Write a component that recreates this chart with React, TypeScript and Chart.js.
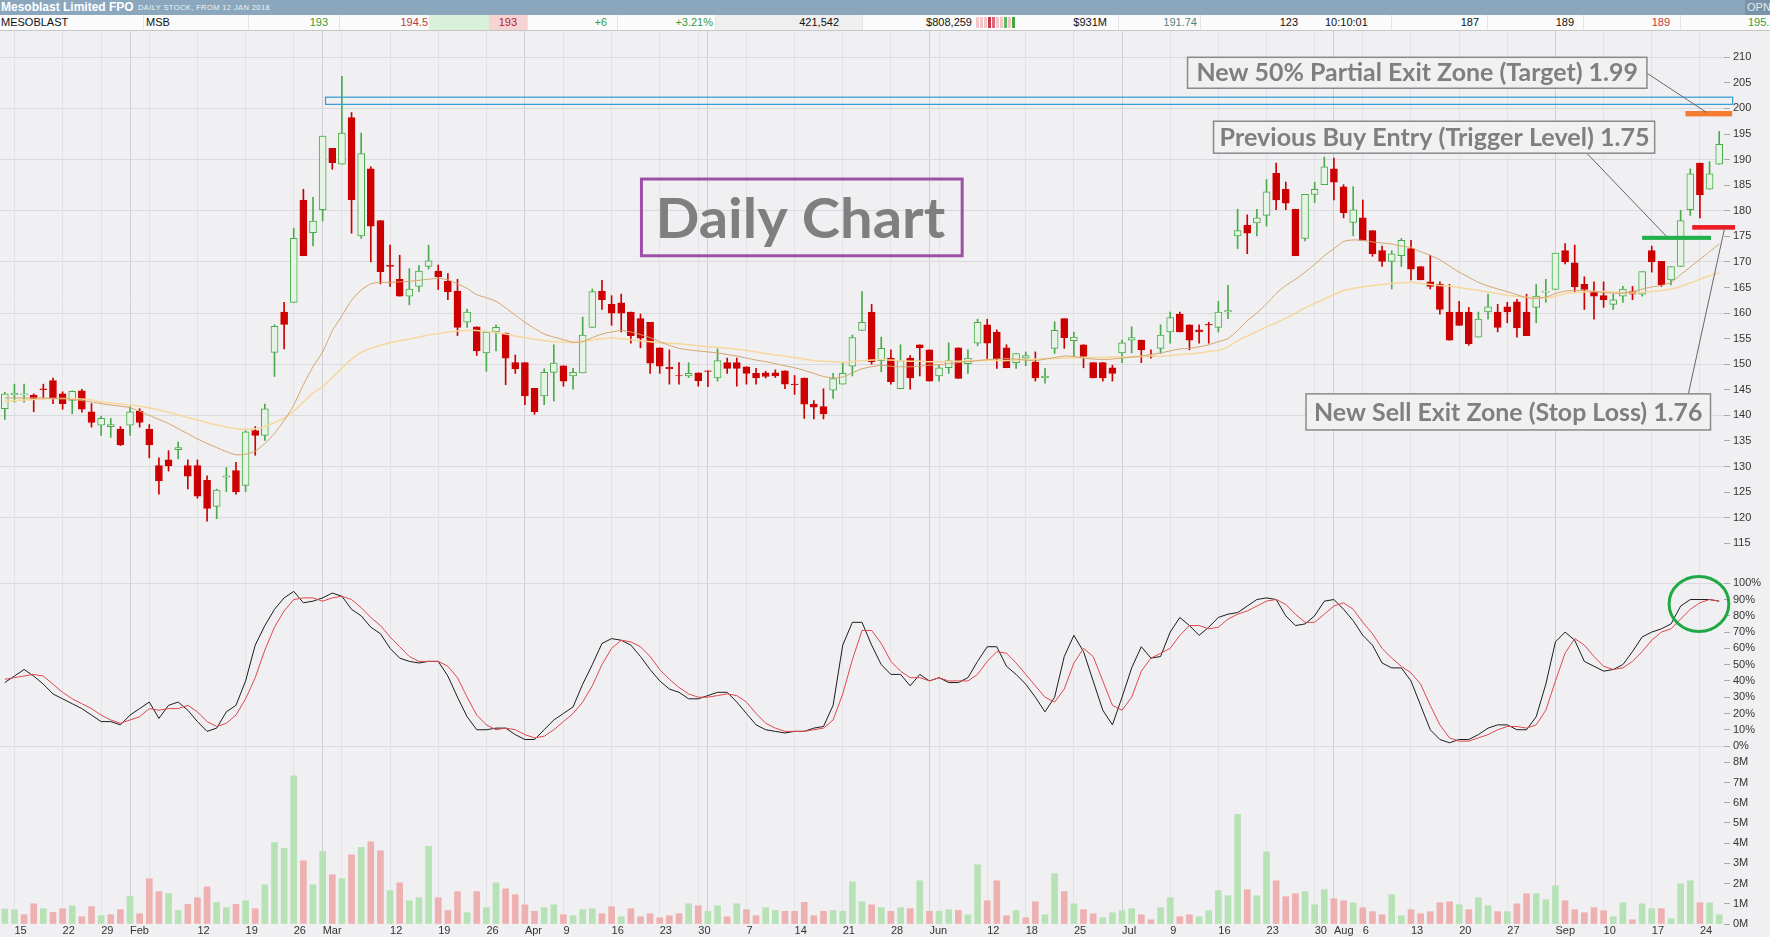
import React, { useEffect, useRef } from 'react';
import { Chart, registerables } from 'chart.js';

Chart.register(...registerables);

// ---------------- data ----------------
const FIRST_DAY = '2018-01-12';
const LAST_DAY = '2018-09-26';
const HOLIDAYS = ['2018-01-26', '2018-03-30', '2018-04-02', '2018-04-25', '2018-06-11'];
const MONTH_NAMES = ['Jan', 'Feb', 'Mar', 'Apr', 'May', 'Jun', 'Jul', 'Aug', 'Sep', 'Oct', 'Nov', 'Dec'];

const OPEN = [
  141.3, 144.0, 144.0, 143.9, 145.2, 146.8, 144.2, 142.9, 144.8, 140.7,
  138.1, 137.8, 137.3, 138.1, 140.8, 137.3, 130.2, 131.3, 133.3, 130.2,
  130.2, 127.3, 122.2, 127.9, 129.2, 126.3, 137.0, 136.1, 152.3, 160.2,
  162.1, 182.1, 175.7, 180.2, 192.2, 189.1, 198.2, 175.1, 188.2, 178.1,
  169.4, 166.6, 163.3, 165.2, 169.1, 168.2, 166.2, 164.3, 158.2, 157.3,
  152.2, 156.3, 156.1, 150.3, 150.3, 145.3, 143.8, 148.4, 149.7, 147.7,
  148.3, 157.2, 164.3, 161.7, 162.0, 160.2, 158.9, 158.2, 153.2, 149.4,
  147.8, 147.7, 148.3, 148.7, 147.3, 150.3, 150.3, 149.5, 148.2, 148.3,
  148.3, 148.7, 146.1, 147.3, 142.2, 141.7, 144.9, 146.1, 149.6, 156.6,
  160.2, 150.7, 151.2, 145.2, 151.2, 153.8, 152.8, 147.7, 149.3, 153.2,
  150.1, 154.1, 157.7, 156.3, 153.2, 150.3, 151.2, 150.4, 147.3, 153.1,
  158.9, 154.6, 153.8, 150.3, 150.3, 149.3, 152.2, 154.7, 154.7, 151.6,
  153.1, 156.3, 159.8, 157.7, 156.7, 157.8, 157.2, 160.2, 175.1, 177.2,
  177.6, 179.1, 187.3, 184.2, 180.3, 174.6, 183.2, 185.1, 188.2, 184.7,
  177.7, 178.6, 176.1, 172.2, 170.1, 171.2, 172.6, 169.1, 166.1, 165.6,
  160.2, 160.2, 160.2, 155.3, 160.2, 160.2, 161.2, 162.2, 160.2, 161.1,
  164.1, 164.6, 172.2, 169.8, 165.6, 164.1, 163.4, 161.7, 163.3, 164.2,
  163.7, 172.2, 170.1, 166.5, 169.1, 180.2, 189.3, 184.2, 189.1,
];
const HIGH = [
  144.5, 146.1, 146.1, 144.2, 146.1, 147.3, 144.6, 144.8, 145.1, 142.3,
  139.8, 139.4, 137.8, 141.7, 141.3, 138.2, 131.7, 133.1, 134.8, 131.3,
  131.3, 128.2, 125.6, 129.8, 130.8, 137.0, 137.8, 142.2, 157.7, 162.1,
  176.6, 184.2, 182.6, 194.6, 192.2, 206.3, 199.2, 195.2, 188.6, 178.1,
  173.3, 171.3, 168.7, 169.3, 173.3, 169.4, 167.7, 166.6, 160.8, 157.3,
  156.4, 157.7, 156.1, 151.8, 150.3, 145.3, 149.1, 153.8, 149.7, 149.2,
  159.2, 164.7, 166.4, 163.4, 163.7, 160.2, 159.8, 158.2, 153.2, 152.8,
  150.3, 150.3, 148.3, 148.7, 153.0, 151.2, 151.2, 149.5, 149.2, 148.6,
  148.9, 148.7, 147.8, 147.3, 142.9, 145.2, 148.2, 150.2, 155.7, 164.2,
  161.7, 155.3, 152.8, 153.8, 151.7, 153.8, 152.8, 149.8, 154.2, 153.2,
  152.8, 158.8, 158.8, 156.7, 153.8, 152.1, 152.4, 152.4, 149.2, 158.3,
  158.9, 156.3, 153.8, 150.3, 150.3, 149.8, 154.7, 157.3, 154.7, 152.8,
  157.7, 160.2, 160.2, 157.7, 157.7, 158.2, 162.3, 165.4, 180.3, 179.2,
  180.3, 186.1, 189.3, 185.6, 180.3, 183.2, 185.6, 190.5, 190.3, 185.1,
  184.7, 182.1, 176.1, 173.1, 172.2, 174.6, 174.2, 169.1, 171.3, 166.1,
  165.6, 162.3, 161.1, 160.2, 163.7, 161.7, 162.1, 162.7, 163.7, 165.6,
  166.6, 171.7, 173.6, 173.3, 167.1, 166.1, 166.1, 163.7, 165.2, 165.2,
  168.1, 173.1, 170.1, 169.1, 180.1, 188.2, 189.3, 189.6, 195.5,
];
const LOW = [
  139.2, 142.6, 142.6, 140.7, 143.2, 142.3, 141.2, 140.3, 140.6, 137.7,
  136.1, 135.7, 134.1, 136.1, 137.7, 131.7, 124.6, 129.1, 131.5, 125.6,
  123.8, 119.3, 119.8, 125.1, 124.6, 125.1, 132.2, 135.1, 147.6, 153.0,
  162.1, 171.2, 173.1, 178.0, 188.1, 189.1, 175.6, 174.6, 170.0, 165.7,
  165.2, 163.3, 161.6, 164.2, 168.6, 164.6, 162.6, 155.6, 157.2, 151.7,
  148.6, 152.6, 146.0, 148.2, 142.1, 140.2, 142.1, 142.8, 145.7, 145.1,
  148.3, 157.2, 160.7, 157.6, 156.3, 154.1, 153.2, 148.2, 148.2, 146.1,
  146.1, 147.4, 145.7, 145.6, 146.7, 148.2, 145.7, 146.1, 146.1, 147.3,
  147.4, 145.2, 144.1, 139.4, 139.3, 139.3, 143.3, 146.1, 147.7, 156.6,
  150.0, 148.5, 146.1, 145.2, 145.1, 147.7, 146.7, 146.7, 148.2, 147.2,
  148.2, 153.6, 151.1, 149.2, 149.3, 149.2, 149.7, 146.7, 146.3, 152.1,
  153.1, 151.5, 149.3, 147.3, 146.7, 146.7, 150.3, 152.2, 150.3, 151.2,
  152.1, 154.1, 156.3, 152.8, 154.1, 154.1, 156.3, 158.9, 172.6, 171.6,
  175.1, 177.0, 180.2, 180.2, 171.2, 174.1, 181.6, 185.1, 182.1, 178.6,
  175.1, 174.2, 171.1, 169.1, 164.7, 169.1, 166.5, 166.5, 164.7, 159.8,
  154.7, 157.6, 153.7, 155.3, 158.8, 156.3, 158.1, 155.3, 155.6, 158.1,
  162.1, 164.6, 169.6, 164.1, 160.7, 158.8, 161.1, 160.7, 162.1, 162.6,
  163.3, 168.0, 165.2, 165.5, 169.1, 179.1, 178.6, 184.2, 189.1,
];
const CLOSE = [
  144.2, 144.3, 144.2, 143.3, 145.0, 143.2, 142.3, 144.7, 141.2, 138.6,
  139.4, 138.2, 134.2, 140.7, 138.6, 134.2, 127.2, 130.1, 133.7, 128.1,
  124.2, 121.8, 125.4, 128.2, 125.1, 136.8, 136.1, 141.3, 157.4, 157.8,
  174.6, 171.2, 178.0, 194.6, 189.4, 195.2, 182.1, 191.2, 177.0, 168.1,
  169.1, 163.3, 164.7, 168.2, 170.2, 167.1, 164.2, 157.2, 160.2, 152.6,
  156.3, 157.2, 151.2, 149.1, 143.8, 140.7, 148.4, 150.2, 146.7, 148.4,
  155.7, 164.2, 162.6, 160.0, 160.0, 155.6, 155.1, 150.2, 149.6, 149.1,
  147.7, 148.2, 146.8, 148.6, 150.7, 149.2, 149.2, 148.2, 147.3, 147.6,
  147.7, 146.1, 146.0, 142.2, 141.6, 140.3, 147.2, 148.2, 155.2, 158.2,
  150.5, 153.1, 146.6, 150.7, 147.3, 153.2, 146.7, 149.3, 150.7, 147.2,
  151.2, 158.2, 154.1, 151.1, 149.3, 152.1, 151.7, 147.3, 147.7, 156.6,
  155.2, 155.3, 151.5, 147.3, 147.3, 148.2, 154.2, 155.2, 152.8, 151.4,
  155.7, 159.1, 156.3, 154.7, 156.3, 157.7, 160.2, 160.5, 176.1, 175.6,
  178.6, 183.7, 182.1, 181.5, 171.2, 183.2, 184.2, 188.6, 185.6, 179.6,
  180.2, 174.2, 171.6, 170.1, 171.6, 174.2, 168.6, 166.5, 165.2, 160.7,
  154.7, 157.6, 154.0, 158.8, 161.2, 157.2, 160.2, 157.1, 155.6, 163.3,
  164.3, 171.7, 170.0, 165.1, 164.6, 163.3, 162.6, 162.6, 164.7, 163.7,
  168.1, 170.0, 165.5, 169.1, 178.1, 187.2, 183.1, 187.2, 193.0,
];
const VOLUME_M = [
  0.74, 0.71, 0.46, 1.0, 0.76, 0.58, 0.76, 0.9, 0.36, 0.86,
  0.41, 0.46, 0.71, 1.37, 0.51, 2.24, 1.6, 1.51, 0.67, 0.97,
  1.3, 1.84, 1.07, 0.81, 0.97, 1.15, 0.76, 1.94, 4.03, 3.74,
  7.33, 3.13, 1.94, 3.59, 2.44, 2.24, 3.42, 3.79, 4.07, 3.62,
  1.65, 2.04, 1.15, 1.3, 3.84, 1.3, 0.67, 1.6, 0.56, 1.6,
  0.81, 2.04, 1.74, 1.45, 0.95, 0.63, 0.81, 0.95, 0.46, 0.41,
  0.71, 0.76, 0.51, 0.86, 0.36, 0.76, 0.36, 0.51, 0.31, 0.41,
  0.51, 1.0, 0.9, 0.63, 0.9, 0.36, 1.0, 0.71, 0.41, 0.81,
  0.67, 0.63, 0.63, 1.07, 0.41, 0.63, 0.67, 0.63, 2.09, 1.1,
  0.95, 0.81, 0.63, 0.81, 0.76, 2.14, 0.63, 0.63, 0.71, 0.67,
  0.46, 2.93, 1.15, 2.14, 0.41, 0.66, 0.31, 1.1, 0.46, 2.49,
  1.6, 1.0, 0.71, 0.51, 0.31, 0.56, 0.66, 0.76, 0.46, 0.21,
  0.81, 1.3, 0.36, 0.46, 0.36, 0.66, 1.65, 1.4, 5.43, 1.7,
  1.4, 3.57, 2.14, 1.35, 1.5, 1.6, 0.95, 1.7, 1.25, 1.15,
  1.05, 0.81, 0.61, 0.46, 1.45, 0.41, 0.71, 0.51, 0.61, 1.05,
  1.1, 0.95, 0.71, 1.3, 0.9, 0.61, 0.61, 1.0, 1.5, 1.5,
  1.2, 1.89, 1.15, 0.71, 0.56, 0.81, 0.66, 0.36, 1.05, 0.21,
  1.0, 0.76, 0.76, 0.26, 1.99, 2.14, 1.05, 1.05, 0.46,
];
const STOCH_K = [
  39, 43, 47, 43, 38, 32, 29, 26, 23, 19,
  15, 15, 13, 19, 23, 27, 17, 25, 27, 22,
  15, 9, 11, 21, 25, 40, 62, 74, 84, 91,
  95, 88, 89, 91, 94, 92, 84, 80, 73, 69,
  60, 54, 52, 51, 52, 52, 43, 30, 18, 10,
  10, 11, 11, 7, 4, 4, 10, 16, 20, 24,
  38, 50, 63, 66, 65, 62, 55, 47, 40, 35,
  33, 29, 29, 31, 33, 33, 27, 20, 13, 10,
  9, 8, 9, 9, 11, 12, 25, 62, 76, 76,
  62, 50, 44, 44, 37, 44, 40, 42, 39, 39,
  42, 52, 61, 61, 49, 44, 38, 30, 21, 30,
  55, 68, 58, 40, 22, 13, 30, 48, 61, 54,
  55, 70, 79, 74, 68, 73, 79, 81, 82, 86,
  90, 91, 90, 80, 74, 75, 80, 89, 90, 84,
  77, 68, 62, 51, 48, 48, 40, 25, 10, 4,
  2, 4, 4, 7, 11, 13, 13, 10, 10, 18,
  38, 64, 70, 65, 52, 49, 46, 47, 50, 58,
  67, 70, 72, 75, 86, 90, 90, 90, 89,
];
const STOCH_D = [
  41, 42, 43, 44, 43, 38, 33, 29, 26, 23,
  19, 16, 14, 16, 18, 23, 22, 23, 23, 25,
  21, 15, 12, 14, 19, 29, 42, 59, 73, 83,
  90, 91, 91, 89, 91, 92, 90, 85, 79, 74,
  67, 61, 55, 52, 52, 52, 49, 42, 30, 19,
  13, 10, 11, 10, 7, 5, 6, 10, 15, 20,
  27, 37, 50, 60, 65, 64, 61, 55, 47, 41,
  36, 32, 30, 30, 31, 32, 31, 27, 20, 14,
  11, 9, 9, 9, 10, 11, 16, 32, 53, 71,
  71, 63, 52, 46, 42, 42, 40, 42, 40, 40,
  40, 44, 52, 58, 57, 51, 44, 37, 30, 27,
  35, 51, 60, 55, 40, 25, 22, 30, 46, 54,
  57, 60, 68, 74, 74, 72, 73, 78, 81, 83,
  86, 89, 90, 87, 81, 76, 76, 81, 86, 88,
  84, 76, 69, 60, 54, 49, 45, 38, 25, 13,
  5, 3, 3, 5, 7, 10, 12, 12, 11, 13,
  22, 40, 57, 66, 62, 55, 49, 47, 48, 52,
  58, 65, 70, 72, 78, 84, 88, 90, 89,
];
const MA_FAST = [
  143.4, 143.4, 143.4, 143.4, 143.4, 143.3, 143.3, 143.1, 142.9, 142.6,
  142.3, 142.0, 141.8, 141.5, 140.8, 140.0, 139.2, 138.4, 137.4, 136.4,
  135.4, 134.5, 133.7, 132.9, 132.3, 132.4, 133.0, 134.5, 136.5, 139.0,
  142.0, 146.0, 149.5, 152.4, 156.5, 159.5, 162.5, 164.5, 165.7, 166.0,
  166.0, 166.1, 166.2, 166.4, 166.6, 166.8, 166.5, 165.7, 164.8, 163.6,
  163.0, 162.3, 161.0, 159.6, 158.2, 157.0, 155.9, 155.3, 154.8, 154.3,
  154.4, 155.2, 155.9, 156.3, 156.6, 156.3, 155.8, 155.2, 154.4, 153.7,
  153.1, 152.8, 152.6, 152.4, 152.2, 151.9, 151.6, 151.2, 150.8, 150.5,
  150.1, 149.7, 149.3, 148.8, 148.2, 147.6, 147.3, 147.5, 148.3, 149.1,
  149.5, 149.8, 149.6, 149.5, 149.5, 149.6, 149.8, 149.9, 150.1, 150.3,
  150.5, 150.7, 150.9, 151.0, 151.1, 151.0, 150.8, 150.7, 151.0, 151.3,
  151.6, 151.5, 151.2, 151.0, 150.9, 151.0, 151.2, 151.4, 151.6, 151.9,
  152.2, 152.6, 153.0, 153.1, 153.4, 153.8, 154.4, 155.0, 156.6, 158.5,
  160.0, 161.8, 163.8, 165.4, 166.6, 168.0, 169.5, 171.2, 172.6, 174.0,
  174.3, 174.2, 173.9, 173.7, 173.5, 173.1, 172.8, 172.0, 171.3, 170.4,
  169.2, 168.0, 167.0, 166.0, 165.3, 164.7, 164.2, 163.6, 163.0, 162.9,
  163.1, 163.8, 164.3, 164.4, 164.4, 164.2, 164.0, 163.9, 163.9, 164.2,
  164.7, 165.1, 165.4, 166.0, 167.5, 169.0, 170.5, 172.0, 173.5,
];
const MA_SLOW = [
  142.8, 142.9, 143.0, 143.1, 143.2, 143.3, 143.3, 143.3, 143.2, 143.0,
  142.6, 142.4, 142.2, 142.0, 141.8, 141.5, 141.1, 140.6, 140.1, 139.6,
  139.1, 138.6, 138.1, 137.7, 137.4, 137.3, 137.4, 137.8, 138.6, 139.4,
  140.8, 142.6, 144.4, 145.6, 147.4, 149.2, 151.0, 152.3, 153.1, 153.7,
  154.2, 154.6, 154.9, 155.3, 155.7, 156.0, 156.3, 156.5, 156.6, 156.6,
  156.4, 156.2, 155.9, 155.5, 155.2, 154.9, 154.6, 154.4, 154.3, 154.2,
  154.5, 154.8, 155.0, 155.1, 155.0, 154.8, 154.6, 154.4, 154.2, 154.1,
  154.0, 153.8, 153.6, 153.4, 153.3, 153.1, 152.9, 152.7, 152.4, 152.1,
  151.8, 151.6, 151.3, 151.0, 150.7, 150.6, 150.5, 150.4, 150.5, 150.7,
  150.8, 150.9, 150.8, 150.7, 150.6, 150.6, 150.5, 150.5, 150.6, 150.6,
  150.7, 150.7, 150.7, 150.7, 150.7, 150.8, 150.9, 151.0, 151.1, 151.1,
  151.2, 151.2, 151.3, 151.3, 151.3, 151.4, 151.4, 151.4, 151.5, 151.6,
  151.5, 151.7, 151.9, 152.0, 152.2, 152.5, 152.7, 153.4, 154.6, 155.5,
  156.4, 157.3, 158.1, 159.0, 160.0, 161.0, 161.9, 162.7, 163.6, 164.4,
  164.8, 165.1, 165.4, 165.6, 165.8, 165.9, 166.0, 165.8, 165.6, 165.4,
  165.3, 165.0, 164.7, 164.4, 164.1, 163.8, 163.5, 163.3, 163.1, 162.9,
  163.0, 163.3, 163.8, 164.0, 164.1, 164.2, 164.2, 164.1, 164.0, 163.9,
  164.0, 164.2, 164.4, 164.7, 165.2, 165.9, 166.6, 167.3, 167.9,
];
const PRICE_TICKS = [115, 120, 125, 130, 135, 140, 145, 150, 155, 160, 165, 170, 175, 180, 185, 190, 195, 200, 205, 210];
const STOCH_TICKS = [0, 10, 20, 30, 40, 50, 60, 70, 80, 90, 100];
const VOLUME_TICKS = [0, 1, 2, 3, 4, 5, 6, 7, 8];

// trade-plan annotations (index / price units)
const RESIST_ZONE = { from: 33.3, to: 179.4, low: 200.8, high: 202.2 };
const LEVEL_BARS = [
  { from: 174.5, to: 179.35, low: 198.45, high: 199.5, color: '#f47b2f' },
  { from: 170.0, to: 177.15, low: 174.3, high: 175.1, color: '#22b04b' },
  { from: 175.2, to: 179.65, low: 176.3, high: 177.2, color: '#ec1c24' },
];
const NOTE_BOXES = [
  { text: 'New 50% Partial Exit Zone (Target) 1.99', i0: 122.8, i1: 170.5, top: 210.0, bottom: 203.95, padL: 9, padR: 9, size: 24, border: '#8a8a8a', bw: 1.5, fill: '#f1f1f1' },
  { text: 'Previous Buy Entry (Trigger Level) 1.75', i0: 125.5, i1: 171.3, top: 197.5, bottom: 191.25, padL: 6, padR: 5, size: 24, border: '#8a8a8a', bw: 1.5, fill: '#f1f1f1' },
  { text: 'New Sell Exit Zone (Stop Loss) 1.76', i0: 135.1, i1: 177.1, top: 144.2, bottom: 137.15, padL: 8, padR: 8, size: 24, border: '#8a8a8a', bw: 1.5, fill: '#f1f1f1' },
  { text: 'Daily Chart', i0: 66.1, i1: 99.4, top: 186.2, bottom: 171.2, padL: 14, padR: 17, size: 56, border: '#9d50a6', bw: 3, fill: '' },
];
const LEADERS = [
  { i0: 170.5, v0: 206.9, i1: 176.7, v1: 199.2 },
  { i0: 164.25, v0: 191.25, i1: 172.5, v1: 175.05 },
  { i0: 174.8, v0: 144.2, i1: 178.55, v1: 176.5 },
];
const STOCH_CIRCLE = { i: 175.9, v: 87.3, di: 3.1, dv: 16.9 };

// ---------------- derived categories ----------------
function buildDates(): Date[] {
  const out: Date[] = [];
  const d = new Date(FIRST_DAY + 'T00:00:00Z');
  const end = new Date(LAST_DAY + 'T00:00:00Z');
  while (d.getTime() <= end.getTime()) {
    const dow = d.getUTCDay();
    const iso = d.toISOString().slice(0, 10);
    if (dow !== 0 && dow !== 6 && HOLIDAYS.indexOf(iso) < 0) out.push(new Date(d.getTime()));
    d.setUTCDate(d.getUTCDate() + 1);
  }
  return out;
}
const DATES = buildDates();
const CATEGORIES = DATES.map((d) => d.toISOString().slice(0, 10));
const weekKey = (d: Date) => Math.floor((d.getTime() / 86400000 + 3) / 7);
const GRID_KIND: string[] = [];
const TICK_TEXT: string[] = [];
(() => {
  let lastI = -99;
  let lastW = 0;
  DATES.forEach((d, i) => {
    let kind = '';
    let text = '';
    if (i > 0) {
      const p = DATES[i - 1];
      if (d.getUTCMonth() !== p.getUTCMonth()) {
        kind = 'month';
        text = MONTH_NAMES[d.getUTCMonth()];
      } else if (weekKey(d) !== weekKey(p)) {
        kind = 'week';
        text = String(d.getUTCDate());
      }
    }
    if (text) {
      if ((i - lastI) * 9.63 < lastW + 3) text = '';
      else {
        lastI = i;
        lastW = text.length * 6.2;
      }
    }
    GRID_KIND.push(kind);
    TICK_TEXT.push(text);
  });
})();

// ---------------- styling ----------------
const FONT = "'Liberation Sans', Arial, sans-serif";
const BG = '#f0f0f3';
const UP_LINE = '#4aab4a';
const UP_FILL = '#e6f4e6';
const DOWN = '#cc0000';
const VOL_UP = '#b6e2b6';
const VOL_DOWN = '#eeb1b1';
const isUp = (i: number) => CLOSE[i] >= OPEN[i];
const volUp = (i: number) => (i === 0 ? CLOSE[0] >= OPEN[0] : CLOSE[i] >= CLOSE[i - 1]);

function xAxis(showLabels: boolean): any {
  return {
    type: 'category',
    offset: true,
    grid: {
      offset: false,
      drawTicks: false,
      color: (c: any) => {
        const k = GRID_KIND[c.index];
        return k === 'month' ? '#cfcfd5' : k === 'week' ? '#e2e2e7' : 'rgba(0,0,0,0)';
      },
    },
    border: { display: false },
    ticks: showLabels
      ? {
          autoSkip: false,
          maxRotation: 0,
          minRotation: 0,
          align: 'start',
          padding: 1,
          color: '#333',
          font: { size: 11, family: FONT, lineHeight: 1 },
          callback: (_v: any, i: number) => TICK_TEXT[i],
        }
      : { display: false },
    afterFit: (s: any) => {
      s.paddingLeft = 0;
      s.paddingRight = 0;
    },
  };
}

function yAxis(min: number, max: number, vals: number[], fmt: (v: number) => string, gridOn: (v: number) => boolean): any {
  return {
    type: 'linear',
    position: 'right',
    min,
    max,
    bounds: 'data',
    afterBuildTicks: (s: any) => {
      s.ticks = vals.map((v) => ({ value: v }));
    },
    afterFit: (s: any) => {
      s.width = 46;
      s.paddingTop = 0;
      s.paddingBottom = 0;
    },
    grid: {
      color: (c: any) => (c.tick && gridOn(c.tick.value) ? '#d9d9de' : 'rgba(0,0,0,0)'),
      tickColor: '#a9a9a9',
      tickLength: 6,
      drawTicks: true,
    },
    border: { display: false },
    ticks: {
      autoSkip: false,
      padding: 3,
      color: '#333',
      font: { size: 11, family: FONT },
      callback: (v: any) => fmt(Number(v)),
    },
  };
}

const baseOptions = (scales: any, plugins: any[] = []) => ({
  responsive: true,
  maintainAspectRatio: false,
  animation: false,
  events: [],
  layout: { padding: 0 },
  plugins: { legend: { display: false }, tooltip: { enabled: false } },
  scales,
});

function fittedText(ctx: CanvasRenderingContext2D, text: string, x: number, baseline: number, width: number, size: number, color: string) {
  ctx.save();
  ctx.font = `bold ${size}px Lato, 'Open Sans', sans-serif`;
  const w = ctx.measureText(text).width;
  ctx.translate(x, baseline);
  ctx.scale(width / w, 1);
  ctx.fillStyle = color;
  ctx.textAlign = 'left';
  ctx.textBaseline = 'alphabetic';
  ctx.fillText(text, 0, 0);
  ctx.restore();
}

const priceAnnotations = {
  id: 'priceAnnotations',
  afterDatasetsDraw(chart: any) {
    const { ctx, scales } = chart;
    const px = (i: number) => scales.x.getPixelForValue(i);
    const py = (v: number) => scales.y.getPixelForValue(v);
    ctx.save();
    // resistance zone
    ctx.strokeStyle = '#2e9bd2';
    ctx.lineWidth = 1.2;
    ctx.strokeRect(px(RESIST_ZONE.from), py(RESIST_ZONE.high), px(RESIST_ZONE.to) - px(RESIST_ZONE.from), py(RESIST_ZONE.low) - py(RESIST_ZONE.high));
    // level bars
    LEVEL_BARS.forEach((b) => {
      ctx.fillStyle = b.color;
      ctx.fillRect(px(b.from), py(b.high), px(b.to) - px(b.from), py(b.low) - py(b.high));
    });
    // leader lines
    ctx.strokeStyle = '#666';
    ctx.lineWidth = 1;
    LEADERS.forEach((l) => {
      ctx.beginPath();
      ctx.moveTo(px(l.i0), py(l.v0));
      ctx.lineTo(px(l.i1), py(l.v1));
      ctx.stroke();
    });
    // note boxes
    NOTE_BOXES.forEach((b) => {
      const x0 = px(b.i0);
      const x1 = px(b.i1);
      const y0 = py(b.top);
      const y1 = py(b.bottom);
      if (b.fill) {
        ctx.fillStyle = b.fill;
        ctx.fillRect(x0, y0, x1 - x0, y1 - y0);
      }
      ctx.strokeStyle = b.border;
      ctx.lineWidth = b.bw;
      ctx.strokeRect(x0, y0, x1 - x0, y1 - y0);
      const base = (y0 + y1) / 2 + b.size * 0.36;
      fittedText(ctx, b.text, x0 + b.padL, base, x1 - x0 - b.padL - b.padR, b.size, '#7f7f7f');
    });
    ctx.restore();
  },
};

const stochAnnotations = {
  id: 'stochAnnotations',
  afterDatasetsDraw(chart: any) {
    const { ctx, scales } = chart;
    const cx = scales.x.getPixelForValue(STOCH_CIRCLE.i);
    const cy = scales.y.getPixelForValue(STOCH_CIRCLE.v);
    const rx = scales.x.getPixelForValue(STOCH_CIRCLE.i + STOCH_CIRCLE.di) - cx;
    const ry = cy - scales.y.getPixelForValue(STOCH_CIRCLE.v + STOCH_CIRCLE.dv);
    ctx.save();
    ctx.beginPath();
    ctx.ellipse(cx, cy, rx, ry, 0, 0, Math.PI * 2);
    ctx.strokeStyle = '#1fa843';
    ctx.lineWidth = 3;
    ctx.stroke();
    ctx.restore();
  },
};

function priceConfig(): any {
  return {
    type: 'bar',
    data: {
      labels: CATEGORIES,
      datasets: [
        { type: 'line', label: 'MA fast', data: MA_FAST, borderColor: '#d3a468', borderWidth: 1, pointRadius: 0, tension: 0.2, order: -2 },
        { type: 'line', label: 'MA slow', data: MA_SLOW, borderColor: '#f6d79c', borderWidth: 1.5, pointRadius: 0, tension: 0.2, order: -1 },
        {
          type: 'bar',
          label: 'Body',
          data: OPEN.map((o, i) => [o, CLOSE[i]]),
          backgroundColor: (c: any) => (isUp(c.dataIndex) ? UP_FILL : DOWN),
          borderColor: (c: any) => (isUp(c.dataIndex) ? UP_LINE : DOWN),
          borderWidth: 1,
          borderSkipped: false,
          barThickness: 7,
          grouped: false,
          order: 0,
        },
        {
          type: 'bar',
          label: 'Wick',
          data: LOW.map((l, i) => [l, HIGH[i]]),
          backgroundColor: (c: any) => (isUp(c.dataIndex) ? UP_LINE : DOWN),
          borderWidth: 0,
          barThickness: 1,
          grouped: false,
          order: 1,
        },
      ],
    },
    options: baseOptions({
      x: xAxis(false),
      y: yAxis(110.55, 215.14, PRICE_TICKS, (v) => String(v), (v) => v % 10 === 0),
    }),
    plugins: [priceAnnotations],
  };
}

function stochConfig(): any {
  return {
    type: 'line',
    data: {
      labels: CATEGORIES,
      datasets: [
        { label: '%D', data: STOCH_D, borderColor: '#e0474c', borderWidth: 1, pointRadius: 0, tension: 0 },
        { label: '%K', data: STOCH_K, borderColor: '#1c1c1c', borderWidth: 1, pointRadius: 0, tension: 0 },
      ],
    },
    options: baseOptions({
      x: xAxis(false),
      y: yAxis(-4.9, 110.6, STOCH_TICKS, (v) => v + '%', (v) => v === 0 || v === 100),
    }),
    plugins: [stochAnnotations],
  };
}

function volumeConfig(): any {
  return {
    type: 'bar',
    data: {
      labels: CATEGORIES,
      datasets: [
        {
          label: 'Volume',
          data: VOLUME_M,
          backgroundColor: (c: any) => (volUp(c.dataIndex) ? VOL_UP : VOL_DOWN),
          borderWidth: 0,
          barThickness: 6,
        },
      ],
    },
    options: baseOptions({
      x: xAxis(true),
      y: yAxis(0, 8.41, VOLUME_TICKS, (v) => v + 'M', () => false),
    }),
  };
}

// ---------------- header ----------------
const QUOTE_CELLS = [
  { text: 'MESOBLAST', x: 1, align: 'left', color: '#111' },
  { text: 'MSB', x: 146, align: 'left', color: '#111' },
  { text: '193', x: 328, align: 'right', color: '#3b9b3b' },
  { text: '194.5', x: 428, align: 'right', color: '#c23a3a' },
  { text: '193', x: 517, align: 'right', color: '#b02828' },
  { text: '+6', x: 607, align: 'right', color: '#3b9b3b' },
  { text: '+3.21%', x: 713, align: 'right', color: '#3b9b3b' },
  { text: '421,542', x: 839, align: 'right', color: '#111' },
  { text: '$808,259', x: 972, align: 'right', color: '#111' },
  { text: '$931M', x: 1107, align: 'right', color: '#111' },
  { text: '191.74', x: 1197, align: 'right', color: '#4f8585' },
  { text: '123', x: 1298, align: 'right', color: '#111' },
  { text: '10:10:01', x: 1325, align: 'left', color: '#111' },
  { text: '187', x: 1479, align: 'right', color: '#111' },
  { text: '189', x: 1574, align: 'right', color: '#111' },
  { text: '189', x: 1670, align: 'right', color: '#c23a3a' },
  { text: '195.5', x: 1748, align: 'left', color: '#3b9b3b' },
];
const QUOTE_BG = [
  { x0: 429, x1: 489, color: '#d9f1d9' },
  { x0: 489, x1: 527, color: '#f6d4d4' },
  { x0: 715, x1: 862, color: '#efefef' },
];
const QUOTE_SEPARATORS = [143, 248, 339, 527, 617, 715, 862, 1118, 1200, 1391, 1487, 1583, 1680];
const TRADE_STRIP = ['#f3c6ca', '#f3c6ca', '#f3c6ca', '#c9384b', '#d9687a', '#f3c6ca', '#f3c6ca', '#5cb85c', '#f3c6ca', '#3ea83e'];

function Header() {
  const cellFont = "'Liberation Sans Narrow', 'Liberation Sans', Arial, sans-serif";
  return (
    <>
      <div style={{ position: 'absolute', left: 0, top: 0, width: 1770, height: 15, background: '#8ba7bd' }}>
        <span style={{ position: 'absolute', left: 1, top: 0, lineHeight: '15px', fontSize: 12, fontWeight: 'bold', color: '#fff', fontFamily: FONT, whiteSpace: 'nowrap' }}>
          Mesoblast Limited FPO
        </span>
        <span style={{ position: 'absolute', left: 138, top: 1, lineHeight: '14px', fontSize: 7.5, color: '#eef3f7', fontFamily: FONT, letterSpacing: 0.4, whiteSpace: 'nowrap' }}>
          DAILY STOCK, FROM 12 JAN 2018
        </span>
        <div style={{ position: 'absolute', left: 1745, top: 0, width: 25, height: 15, background: '#7893aa', color: '#e4ebf2', fontSize: 11, lineHeight: '15px', fontFamily: cellFont, paddingLeft: 2, boxSizing: 'border-box' }}>
          OPN
        </div>
      </div>
      <div style={{ position: 'absolute', left: 0, top: 15, width: 1770, height: 15, background: '#fbfbfb', borderBottom: '1px solid #c6c6c6', overflow: 'hidden' }}>
        {QUOTE_BG.map((b, k) => (
          <div key={'bg' + k} style={{ position: 'absolute', left: b.x0, top: 0, width: b.x1 - b.x0, height: 15, background: b.color }} />
        ))}
        {QUOTE_SEPARATORS.map((x, k) => (
          <div key={'sep' + k} style={{ position: 'absolute', left: x, top: 0, width: 1, height: 15, background: '#e4e4e4' }} />
        ))}
        {TRADE_STRIP.map((c, k) => (
          <div key={'ts' + k} style={{ position: 'absolute', left: 976 + k * 4, top: 2, width: 3, height: 11, background: c }} />
        ))}
        {QUOTE_CELLS.map((c, k) => (
          <span
            key={'c' + k}
            style={{
              position: 'absolute',
              top: 0,
              lineHeight: '15px',
              fontSize: 11,
              fontFamily: cellFont,
              color: c.color,
              whiteSpace: 'nowrap',
              ...(c.align === 'right' ? { left: c.x - 200, width: 200, textAlign: 'right' as const } : { left: c.x }),
            }}
          >
            {c.text}
          </span>
        ))}
      </div>
    </>
  );
}

export default function App() {
  const priceRef = useRef<HTMLCanvasElement>(null);
  const stochRef = useRef<HTMLCanvasElement>(null);
  const volRef = useRef<HTMLCanvasElement>(null);

  useEffect(() => {
    const charts = [
      new Chart(priceRef.current as HTMLCanvasElement, priceConfig()),
      new Chart(stochRef.current as HTMLCanvasElement, stochConfig()),
      new Chart(volRef.current as HTMLCanvasElement, volumeConfig()),
    ];
    return () => charts.forEach((c) => c.destroy());
  }, []);

  const panel = (top: number, height: number, ref: any) => (
    <div style={{ position: 'absolute', left: 0, top, width: 1770, height }}>
      <canvas ref={ref} />
    </div>
  );

  return (
    <div style={{ position: 'fixed', left: 0, top: 0, width: 1770, height: 937, background: BG, overflow: 'hidden', fontFamily: FONT }}>
      <Header />
      {panel(31, 535, priceRef)}
      {panel(566, 188, stochRef)}
      {panel(754, 183, volRef)}
    </div>
  );
}
